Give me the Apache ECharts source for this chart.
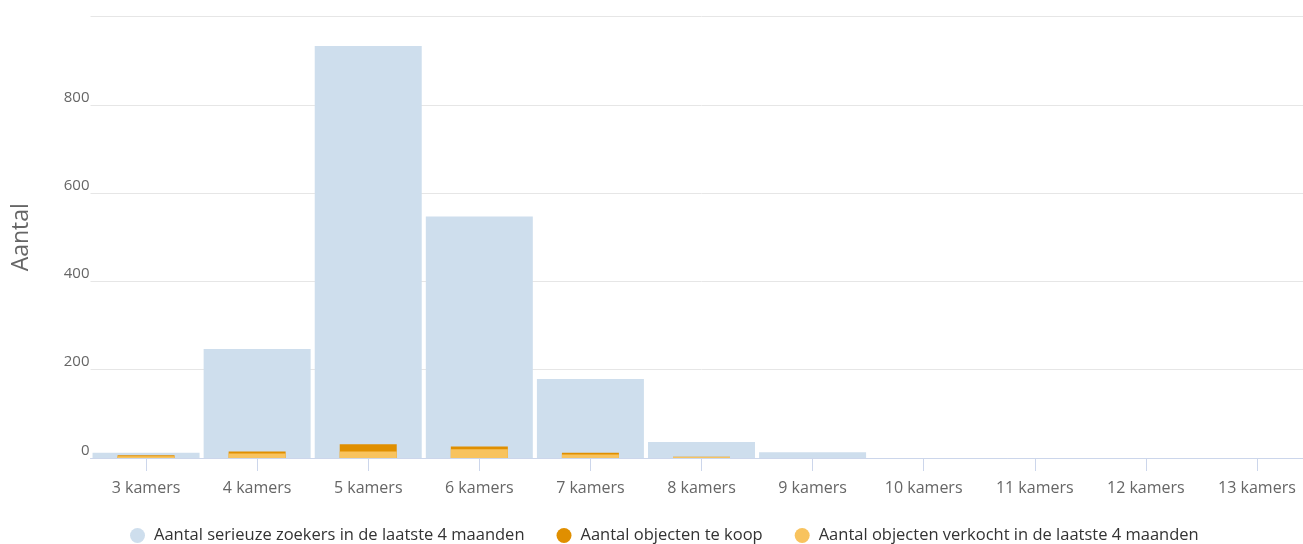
<!DOCTYPE html>
<html>
<head>
<meta charset="utf-8">
<script src="https://cdn.jsdelivr.net/npm/echarts@6/dist/echarts.min.js"></script>
<style>
  html, body { margin: 0; padding: 0; background: #ffffff; overflow: hidden; }
  #chart { width: 1313px; height: 544px; }
</style>
</head>
<body>
<div id="chart"></div>
<script>
// Room categories and counts per series
const categories = ['3 kamers', '4 kamers', '5 kamers', '6 kamers', '7 kamers', '8 kamers',
  '9 kamers', '10 kamers', '11 kamers', '12 kamers', '13 kamers'];
const zoekers = [12, 247, 933, 547, 179, 36, 13, 0, 0, 0, 0];
const teKoop = [6, 15, 31, 26, 12, 3, 0, 0, 0, 0, 0];
const verkocht = [4, 10, 15, 20, 8, 2, 0, 0, 0, 0, 0];
const yTicks = [0, 200, 400, 600, 800, 1000];

const seriesNames = [
  'Aantal serieuze zoekers in de laatste 4 maanden',
  'Aantal objecten te koop',
  'Aantal objecten verkocht in de laatste 4 maanden'
];

const FONT = 'Open Sans';
const chart = echarts.init(document.getElementById('chart'), null, { renderer: 'canvas' });

chart.setOption({
  animation: false,
  backgroundColor: '#ffffff',
  textStyle: { fontFamily: FONT },
  grid: { left: 90.5, right: 0.5, top: 16.5, bottom: 86, containLabel: false },
  legend: {
    top: 525,
    left: 128,
    padding: 2,
    icon: 'circle',
    itemWidth: 15,
    itemHeight: 15,
    itemGap: 32,
    textStyle: { color: '#333333', fontSize: 16.5, fontFamily: FONT, padding: [0, 0, 0, 4] },
    data: seriesNames
  },
  xAxis: [
    {
      type: 'category',
      data: categories,
      axisLine: { show: true, lineStyle: { color: '#ccd6eb', width: 1 } },
      axisTick: { show: true, alignWithLabel: true, length: 13, lineStyle: { color: '#ccd6eb' } },
      axisLabel: { color: '#666666', fontSize: 16, margin: 22, fontFamily: FONT, interval: 0 },
      splitLine: { show: false }
    },
    {
      type: 'category',
      data: categories,
      position: 'bottom',
      show: false
    }
  ],
  yAxis: {
    type: 'value',
    min: yTicks[0],
    max: yTicks[yTicks.length - 1],
    interval: 200,
    name: 'Aantal',
    nameLocation: 'middle',
    nameGap: 58,
    nameTextStyle: { color: '#666666', fontSize: 23, fontFamily: FONT },
    axisLine: { show: false },
    axisTick: { show: false },
    axisLabel: {
      color: '#666666', fontSize: 15, margin: 1, fontFamily: FONT,
      verticalAlign: 'bottom', showMaxLabel: false
    },
    splitLine: { lineStyle: { color: '#e6e6e6', width: 1 } }
  },
  series: [
    {
      name: seriesNames[0],
      type: 'bar',
      xAxisIndex: 0,
      barWidth: 107,
      data: zoekers,
      itemStyle: { color: '#cedeed' }
    },
    {
      name: seriesNames[1],
      type: 'bar',
      xAxisIndex: 1,
      barWidth: 57,
      barGap: '-100%',
      data: teKoop,
      itemStyle: { color: '#e08f00' }
    },
    {
      name: seriesNames[2],
      type: 'bar',
      xAxisIndex: 1,
      barWidth: 57,
      barGap: '-100%',
      data: verkocht,
      itemStyle: { color: '#f8c35e' }
    }
  ]
});
</script>
</body>
</html>
